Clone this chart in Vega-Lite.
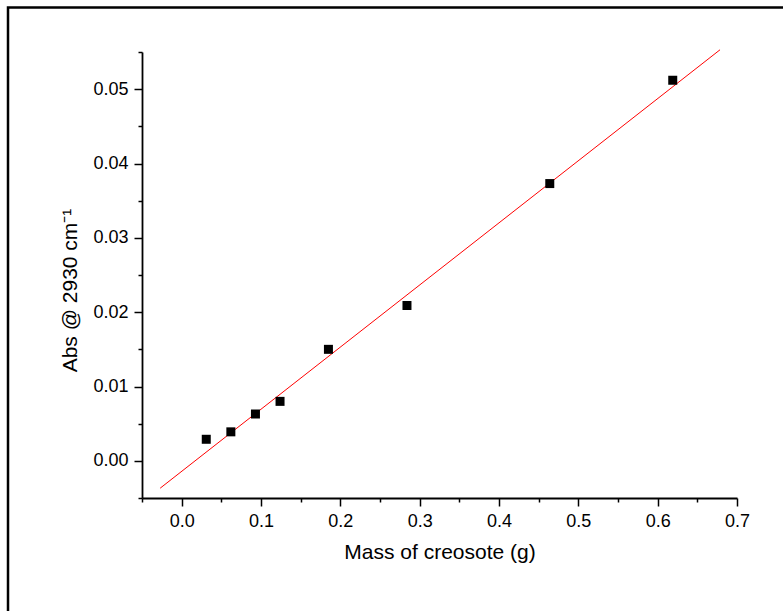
{
  "$schema": "https://vega.github.io/schema/vega-lite/v6.json",
  "width": 595,
  "height": 446,
  "autosize": {"type": "none"},
  "padding": {"left": 142, "top": 52, "right": 46, "bottom": 113},
  "background": "white",
  "config": {
    "view": {"stroke": null},
    "font": "Liberation Sans",
    "axis": {
      "grid": false,
      "domainColor": "#000000",
      "domainWidth": 1.8,
      "tickColor": "#000000",
      "tickWidth": 1.5,
      "labelColor": "#000000",
      "labelFont": "Liberation Sans",
      "labelFontSize": 18,
      "labelOverlap": false,
      "labelFlush": false,
      "labelBound": false,
      "titleColor": "#000000",
      "titleFont": "Liberation Sans",
      "titleFontSize": 21,
      "titleFontWeight": "normal"
    }
  },
  "datasets": {
    "points": [
      {"mass": 0.031, "abs": 0.0029},
      {"mass": 0.062, "abs": 0.0039},
      {"mass": 0.093, "abs": 0.0063},
      {"mass": 0.124, "abs": 0.0080},
      {"mass": 0.185, "abs": 0.0150},
      {"mass": 0.284, "abs": 0.0209},
      {"mass": 0.464, "abs": 0.0373},
      {"mass": 0.619, "abs": 0.0512}
    ],
    "fit": [
      {"mass": -0.0271, "abs": -0.00368},
      {"mass": 0.6786, "abs": 0.0553}
    ]
  },
  "resolve": {"axis": {"x": "independent", "y": "independent"}},
  "layer": [
    {
      "data": {"name": "fit"},
      "mark": {"type": "line", "color": "#ff0000", "strokeWidth": 1},
      "encoding": {
        "x": {
          "field": "mass", "type": "quantitative",
          "scale": {"domain": [-0.05, 0.7], "nice": false, "zero": false},
          "axis": {
            "orient": "bottom",
            "title": "Mass of creosote (g)",
            "values": [0, 0.1, 0.2, 0.3, 0.4, 0.5, 0.6, 0.7],
            "format": ".1f",
            "tickSize": 8,
            "labelPadding": 6,
            "titlePadding": 11
          }
        },
        "y": {
          "field": "abs", "type": "quantitative",
          "scale": {"domain": [-0.005, 0.055], "nice": false, "zero": false},
          "axis": {
            "orient": "left",
            "title": "Abs @ 2930 cm⁻¹",
            "values": [0, 0.01, 0.02, 0.03, 0.04, 0.05],
            "format": ".2f",
            "tickSize": 8,
            "labelPadding": 6,
            "titlePadding": 12,
            "titleY": 238
          }
        }
      }
    },
    {
      "data": {"name": "points"},
      "mark": {"type": "square", "color": "#000000", "filled": true, "opacity": 1, "size": 81},
      "encoding": {
        "x": {
          "field": "mass", "type": "quantitative",
          "axis": {
            "orient": "bottom",
            "title": null,
            "labels": false,
            "domain": false,
            "tickSize": 4,
            "values": [-0.05, 0.05, 0.15, 0.25, 0.35, 0.45, 0.55, 0.65]
          }
        },
        "y": {
          "field": "abs", "type": "quantitative",
          "axis": {
            "orient": "left",
            "title": null,
            "labels": false,
            "domain": false,
            "tickSize": 4,
            "values": [-0.005, 0.005, 0.015, 0.025, 0.035, 0.045, 0.055]
          }
        }
      }
    },
    {
      "data": {"values": [{}]},
      "mark": {"type": "rect", "fill": null, "stroke": "#000000", "strokeWidth": 2.5, "clip": false},
      "encoding": {
        "x": {"datum": -0.2189, "type": "quantitative", "axis": null},
        "x2": {"datum": 0.78},
        "y": {"datum": 0.06097, "type": "quantitative", "axis": null},
        "y2": {"datum": -0.0228}
      }
    }
  ]
}
